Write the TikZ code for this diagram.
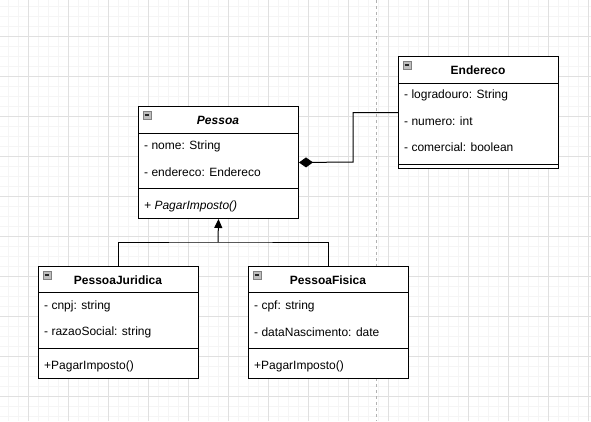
\documentclass[tikz,border=0pt]{standalone}
\usepackage{fontspec}
\setmainfont{Liberation Sans}
\usetikzlibrary{arrows.meta}

\tikzset{
  gridminor/.style={draw=black!4, line width=0.8pt},
  gridmajor/.style={draw=black!12, line width=0.8pt},
  classbox/.style={draw, line width=1pt, fill=white, anchor=north west, inner sep=0pt, minimum width=160pt},
  classtitle/.style={font=\fontsize{12}{14}\selectfont\bfseries, inner sep=0pt},
  member/.style={anchor=west, inner sep=0pt},
  collapse/.style={draw=black!50, fill=black!25, minimum size=8pt, inner sep=0pt,
    path picture={\draw[line width=1.4pt, black!85]
      ([xshift=1.6pt]path picture bounding box.west) -- ([xshift=-1.6pt]path picture bounding box.east);}},
  composition/.style={line width=1pt, {Diamond[length=14pt,width=10pt]}-},
  inherit/.style={line width=1pt, -{Triangle[length=9pt,width=8pt]}}
}

\begin{document}
\begin{tikzpicture}[x=1pt, y=-1pt, font=\fontsize{12}{14}\selectfont]
\useasboundingbox (0,0) rectangle (591,421);

%% Grid
\foreach \x in {8,18,...,588} \draw[gridminor] (\x,0) -- (\x,421);
\foreach \y in {6,16,...,416} \draw[gridminor] (0,\y) -- (591,\y);
\foreach \x in {28,68,...,588} \draw[gridmajor] (\x,0) -- (\x,421);
\foreach \y in {36,76,...,396} \draw[gridmajor] (0,\y) -- (591,\y);
\draw[black!30, line width=0.8pt, dash pattern=on 3pt off 3pt] (376,0) -- (376,421);

%% Pessoa
\node[classbox, minimum height=112pt] (pessoa) at (138,106) {};
\draw[line width=1pt] (138,133) -- (298,133);
\draw[line width=1pt] (138,188) -- (298,188);
\node[collapse] (pessoaIcon) at (147,115) {};
\node[classtitle] (pessoaTitle) at (218,120) {\itshape Pessoa};
\node[member] (pessoaNome) at (144,146) {- nome: String};
\node[member] (pessoaEnd) at (144,172) {- endereco: Endereco};
\node[member] (pessoaImp) at (144,206) {\itshape + PagarImposto()};

%% Endereco
\node[classbox, minimum height=112pt] (endereco) at (398,56) {};
\draw[line width=1pt] (398,83) -- (558,83);
\draw[line width=1pt] (398,164) -- (558,164);
\node[collapse] (enderecoIcon) at (407,65) {};
\node[classtitle] (enderecoTitle) at (478,70) {Endereco};
\node[member] (endLog) at (404,95) {- logradouro: String};
\node[member] (endNum) at (404,121) {- numero: int};
\node[member] (endCom) at (404,147) {- comercial: boolean};

%% PessoaJuridica
\node[classbox, minimum height=112pt] (juridica) at (38,266) {};
\draw[line width=1pt] (38,292) -- (198,292);
\draw[line width=1pt] (38,348) -- (198,348);
\node[collapse] (juridicaIcon) at (47,275) {};
\node[classtitle] (juridicaTitle) at (118,280) {PessoaJuridica};
\node[member] (pjCnpj) at (44,306) {- cnpj: string};
\node[member] (pjRazao) at (44,332) {- razaoSocial: string};
\node[member] (pjImp) at (44,366) {+PagarImposto()};

%% PessoaFisica
\node[classbox, minimum height=112pt] (fisica) at (248,266) {};
\draw[line width=1pt] (248,292) -- (408,292);
\draw[line width=1pt] (248,348) -- (408,348);
\node[collapse] (fisicaIcon) at (257,275) {};
\node[classtitle] (fisicaTitle) at (328,280) {PessoaFisica};
\node[member] (pfCpf) at (254,306) {- cpf: string};
\node[member] (pfData) at (254,332) {- dataNascimento: date};
\node[member] (pfImp) at (254,366) {+PagarImposto()};

%% Connectors
\draw[composition] (pessoa.east) -- (353,162) |- (endereco.west);
\coordinate (split) at (218,242);
\draw[line width=1pt] (juridica.north) |- (split) -| (fisica.north);
\draw[inherit] (split) -- (pessoa.south);
\end{tikzpicture}
\end{document}
